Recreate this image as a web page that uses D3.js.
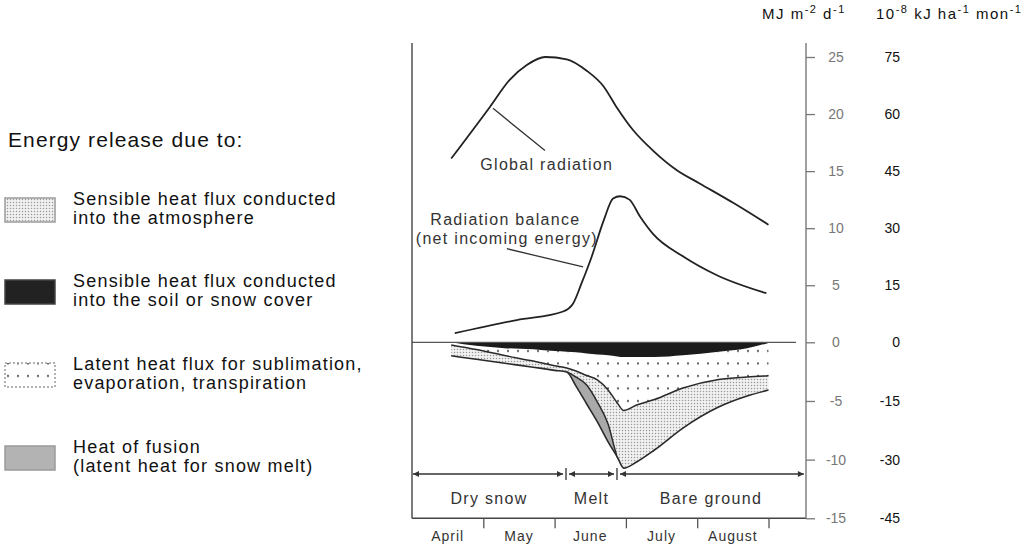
<!DOCTYPE html>
<html>
<head>
<meta charset="utf-8">
<script src="https://cdn.jsdelivr.net/npm/d3@7"></script>
<style>
  body { margin: 0; background: #fff; }
  svg { display: block; font-family: "Liberation Sans", Arial, sans-serif; }
</style>
</head>
<body>
<svg id="chart" width="1036" height="547"></svg>
<script>
// ---- data ----------------------------------------------------------------
// time is measured in months from 1 April (0 = 1 April, 5 = 1 September)
const monthNames = ["April", "May", "June", "July", "August"];
const monthTicks = [1, 2, 3, 4, 5];

const ticksMJ = [25, 20, 15, 10, 5, 0, -5, -10, -15];          // MJ m-2 d-1
const ticksKJ = [75, 60, 45, 30, 15, 0, -15, -30, -45];        // 10-8 kJ ha-1 mon-1

// global radiation (MJ m-2 d-1)
const globalMonth = [0.55, 1.09, 1.37, 1.61, 1.87, 2.17, 2.45, 2.69, 2.87, 3.10, 3.38, 3.71, 4.04, 4.51, 5.0];
const globalValue = [16.1, 20.6, 23.0, 24.3, 25.0, 24.8, 23.8, 22.4, 20.6, 18.6, 16.8, 15.1, 13.9, 12.2, 10.3];

// radiation balance, net incoming energy (MJ m-2 d-1)
const balanceMonth = [0.6, 1.47, 2.12, 2.26, 2.38, 2.52, 2.69, 2.82, 2.92, 3.05, 3.20, 3.38, 3.81, 4.27, 4.97];
const balanceValue = [0.8, 1.95, 2.7, 3.4, 5.2, 7.5, 10.7, 12.6, 12.8, 12.5, 11.0, 9.5, 7.5, 5.9, 4.3];

// energy release terms (negative = energy leaving the surface)
const fluxMonth    = [0.55, 0.9, 1.3, 1.7, 2.0, 2.17, 2.3, 2.45, 2.6, 2.75, 2.88, 2.97, 3.15, 3.4, 3.8, 4.3, 4.7, 5.0];
const soilFlux     = [0, -0.3, -0.5, -0.6, -0.75, -0.8, -0.85, -0.95, -1.05, -1.1, -1.2, -1.25, -1.25, -1.25, -1.1, -0.8, -0.5, -0.05];
const latentFlux   = [-0.23, -0.32, -0.63, -1.0, -1.24, -1.39, -1.6, -1.88, -2.16, -2.97, -3.97, -4.56, -4.1, -3.63, -2.8, -2.37, -2.46, -2.8];
const sensibleFlux = [-0.92, -0.83, -0.66, -0.52, -0.4, -0.34, -0.51, -0.81, -1.88, -2.89, -4.61, -4.91, -4.85, -4.3, -3.41, -2.35, -1.62, -1.22];
const fusionFlux   = [0, 0, 0, 0, 0, 0, -0.77, -1.62, -1.7, -1.53, 0, 0, 0, 0, 0, 0, 0, 0];

// snow-cover phases (month boundaries)
const phaseNames  = ["Dry snow", "Melt", "Bare ground"];
const phaseBounds = [0, 2.16, 2.875, 5.51];

// ---- scales ----------------------------------------------------------------
const svg = d3.select("#chart");
const x = d3.scaleLinear().domain([0, 5]).range([412, 768.5]);
const y = d3.scaleLinear().domain([-15, 0, 25]).range([518.3, 342.3, 57]);
const yKJ = y.copy().domain([-45, 0, 75]);

const frameTop = 43, frameBottom = y(-15), axisX = 806;

// ---- patterns --------------------------------------------------------------
const defs = svg.append("defs");
const fine = defs.append("pattern").attr("id", "fineDots")
  .attr("patternUnits", "userSpaceOnUse").attr("width", 3).attr("height", 3);
fine.append("rect").attr("width", 3).attr("height", 3).attr("fill", "#f1f1f1");
fine.append("circle").attr("cx", 1.5).attr("cy", 1.5).attr("r", 0.75).attr("fill", "#9a9a9a");

const coarse = defs.append("pattern").attr("id", "coarseDots")
  .attr("patternUnits", "userSpaceOnUse").attr("width", 10).attr("height", 12.5)
  .attr("x", 3).attr("y", 345);
coarse.append("rect").attr("width", 10).attr("height", 12.5).attr("fill", "#fff");
coarse.append("circle").attr("cx", 5).attr("cy", 6).attr("r", 1.1).attr("fill", "#555");

defs.append("clipPath").attr("id", "meltClip")
  .append("rect")
  .attr("x", x(fluxMonth[5])).attr("y", 0)
  .attr("width", x(fluxMonth[10]) - x(fluxMonth[5])).attr("height", 547);

defs.append("marker").attr("id", "arrow")
  .attr("viewBox", "0 0 10 10").attr("refX", 10).attr("refY", 5)
  .attr("markerWidth", 7).attr("markerHeight", 6)
  .attr("markerUnits", "userSpaceOnUse")
  .attr("orient", "auto-start-reverse")
  .append("path").attr("d", "M0,0L10,5L0,10Z").attr("fill", "#333");

// ---- stacked energy release ---------------------------------------------------
// all terms are negative, so each layer runs from d[0] (upper) down to d[1] (lower)
const fluxTable = fluxMonth.map((m, i) => ({
  m, soil: soilFlux[i], latent: latentFlux[i], sensible: sensibleFlux[i], fusion: fusionFlux[i]
}));
const stacked = d3.stack()
  .keys(["soil", "latent", "sensible", "fusion"])
  .offset(d3.stackOffsetNone)(fluxTable);
const [sSoil, sLatent, sSensible, sFusion] = stacked;

const curve = d3.curveMonotoneX;
const band = (upper, lower) => d3.area()
  .x((d, i) => x(fluxMonth[i]))
  .y0((d, i) => y(upper[i][0]))
  .y1((d, i) => y(lower[i][1]))
  .curve(curve)(fluxMonth);
const edge = (series) => d3.line()
  .x((d, i) => x(fluxMonth[i]))
  .y((d, i) => y(series[i][1]))
  .curve(curve)(fluxMonth);

// sensible heat to the atmosphere (plus fusion, overdrawn below)
svg.append("path").attr("d", band(sSensible, sFusion)).attr("fill", "url(#fineDots)");
// latent heat
svg.append("path").attr("d", band(sLatent, sLatent)).attr("fill", "url(#coarseDots)");
// heat of fusion, only during melt
svg.append("path").attr("d", band(sFusion, sFusion)).attr("fill", "#a9a9a9")
  .attr("clip-path", "url(#meltClip)");
// sensible heat into soil / snow cover
svg.append("path").attr("d", band(sSoil, sSoil)).attr("fill", "#1b1b1b");

// boundary lines
svg.append("path").attr("d", edge(sLatent)).attr("fill", "none").attr("stroke", "#2a2a2a").attr("stroke-width", 1.5);
svg.append("path").attr("d", edge(sSensible)).attr("fill", "none").attr("stroke", "#2a2a2a").attr("stroke-width", 1.5)
  .attr("clip-path", "url(#meltClip)");
svg.append("path").attr("d", edge(sFusion)).attr("fill", "none").attr("stroke", "#2a2a2a").attr("stroke-width", 1.6);

// zero line
svg.append("line").attr("x1", 412).attr("x2", 796).attr("y1", y(0)).attr("y2", y(0))
  .attr("stroke", "#555").attr("stroke-width", 1.3);

// ---- radiation curves -------------------------------------------------------
const lineGen = d3.line().x(d => x(d[0])).y(d => y(d[1])).curve(d3.curveMonotoneX);
svg.append("path").attr("d", lineGen(d3.zip(globalMonth, globalValue)))
  .attr("fill", "none").attr("stroke", "#222").attr("stroke-width", 1.8);
svg.append("path").attr("d", lineGen(d3.zip(balanceMonth, balanceValue)))
  .attr("fill", "none").attr("stroke", "#222").attr("stroke-width", 1.8);

// curve labels with leader lines
const labelStyle = s => s.attr("font-size", 16).attr("letter-spacing", 1.3).attr("fill", "#333")
  .attr("text-anchor", "middle");
svg.append("line").attr("x1", x(1.136)).attr("y1", y(20.5)).attr("x2", x(1.865)).attr("y2", y(16.8))
  .attr("stroke", "#333").attr("stroke-width", 1.3);
svg.append("text").attr("x", x(1.89)).attr("y", y(15.1)).text("Global radiation").call(labelStyle);

svg.append("text").attr("x", x(1.31)).attr("y", y(10.3)).text("Radiation balance").call(labelStyle);
svg.append("text").attr("x", x(1.33)).attr("y", y(8.6)).text("(net incoming energy)").call(labelStyle);
svg.append("line").attr("x1", x(1.33)).attr("y1", y(8.2)).attr("x2", x(2.40)).attr("y2", y(6.6))
  .attr("stroke", "#333").attr("stroke-width", 1.3);

// ---- frame and axes ---------------------------------------------------------
svg.append("line").attr("x1", 412).attr("x2", 412).attr("y1", frameTop).attr("y2", frameBottom)
  .attr("stroke", "#444").attr("stroke-width", 1.4);
svg.append("line").attr("x1", 412).attr("x2", axisX).attr("y1", frameBottom).attr("y2", frameBottom)
  .attr("stroke", "#444").attr("stroke-width", 1.4);
svg.append("line").attr("x1", axisX).attr("x2", axisX).attr("y1", frameTop).attr("y2", frameBottom)
  .attr("stroke", "#777").attr("stroke-width", 1.4);

const yAxis = svg.append("g").attr("transform", `translate(${axisX},0)`)
  .call(d3.axisRight(y).tickValues(ticksMJ).tickSize(9).tickFormat(d => String(d)));
yAxis.select(".domain").remove();
yAxis.selectAll(".tick line").attr("stroke", "#777").attr("stroke-width", 1.3);
yAxis.selectAll(".tick text").attr("x", 30).attr("text-anchor", "middle")
  .attr("fill", "#777").attr("font-size", 14).attr("font-family", "Liberation Sans, Arial, sans-serif");

const kjAxis = svg.append("g").attr("transform", "translate(900,0)")
  .call(d3.axisRight(yKJ).tickValues(ticksKJ).tickSize(0).tickFormat(d => String(d)));
kjAxis.select(".domain").remove();
kjAxis.selectAll(".tick text").attr("x", 0).attr("text-anchor", "end")
  .attr("fill", "#111").attr("font-size", 14).attr("font-family", "Liberation Sans, Arial, sans-serif");

// month axis below the frame
const xAxis = svg.append("g").attr("transform", `translate(0,${frameBottom})`)
  .call(d3.axisBottom(x).tickValues(monthTicks).tickSize(10).tickFormat(""));
xAxis.select(".domain").remove();
xAxis.selectAll(".tick line").attr("stroke", "#555").attr("stroke-width", 1.3);
svg.selectAll(".month").data(monthNames).join("text")
  .attr("class", "month")
  .attr("x", (d, i) => x(i + 0.5)).attr("y", 541)
  .attr("text-anchor", "middle").attr("font-size", 14).attr("letter-spacing", 1)
  .attr("fill", "#333").text(d => d);

// unit headers
const unitMJ = svg.append("text").attr("x", 762).attr("y", 19).attr("font-size", 15)
  .attr("letter-spacing", 1.5).attr("fill", "#111");
unitMJ.append("tspan").text("MJ m");
unitMJ.append("tspan").attr("dy", -6).attr("font-size", 11).text("-2");
unitMJ.append("tspan").attr("dy", 6).text(" d");
unitMJ.append("tspan").attr("dy", -6).attr("font-size", 11).text("-1");

const unitKJ = svg.append("text").attr("x", 876).attr("y", 19).attr("font-size", 15)
  .attr("letter-spacing", 1.5).attr("fill", "#111");
unitKJ.append("tspan").text("10");
unitKJ.append("tspan").attr("dy", -6).attr("font-size", 11).text("-8");
unitKJ.append("tspan").attr("dy", 6).text(" kJ ha");
unitKJ.append("tspan").attr("dy", -6).attr("font-size", 11).text("-1");
unitKJ.append("tspan").attr("dy", 6).text(" mon");
unitKJ.append("tspan").attr("dy", -6).attr("font-size", 11).text("-1");

// ---- phase timeline -----------------------------------------------------------
const timelineY = 474;
const phases = phaseNames.map((name, i) => ({ name, from: phaseBounds[i], to: phaseBounds[i + 1] }));
svg.selectAll(".phase-arrow").data(phases).join("line")
  .attr("class", "phase-arrow")
  .attr("x1", d => x(d.from) + (d.from === 0 ? 1 : 3))
  .attr("x2", d => x(d.to) - (d.to === phaseBounds[3] ? 1 : 3))
  .attr("y1", timelineY).attr("y2", timelineY)
  .attr("stroke", "#333").attr("stroke-width", 1.3)
  .attr("marker-start", "url(#arrow)").attr("marker-end", "url(#arrow)");
svg.selectAll(".phase-sep").data(phaseBounds.slice(1, 3)).join("line")
  .attr("class", "phase-sep")
  .attr("x1", d => x(d)).attr("x2", d => x(d))
  .attr("y1", timelineY - 6).attr("y2", timelineY + 6)
  .attr("stroke", "#333").attr("stroke-width", 1.3);
svg.selectAll(".phase-label").data(phases).join("text")
  .attr("class", "phase-label")
  .attr("x", d => x((d.from + d.to) / 2)).attr("y", 504)
  .attr("text-anchor", "middle").attr("font-size", 16).attr("letter-spacing", 1.3)
  .attr("fill", "#333").text(d => d.name);

// ---- legend ----------------------------------------------------------------------
svg.append("text").attr("x", 8).attr("y", 147).attr("font-size", 21).attr("letter-spacing", 1.1)
  .attr("fill", "#111").text("Energy release due to:");

const legendLines = [
  ["Sensible heat flux conducted", "into the atmosphere"],
  ["Sensible heat flux conducted", "into the soil or snow cover"],
  ["Latent heat flux for sublimation,", "evaporation, transpiration"],
  ["Heat of fusion", "(latent heat for snow melt)"]
];
const legendFill = ["url(#fineDots)", "#222", "url(#coarseDots)", "#b3b3b3"];
const legendBaseline = [205, 287, 370, 453];

legendLines.forEach((lines, i) => {
  const g = svg.append("g");
  g.append("rect").attr("x", 5).attr("y", legendBaseline[i] - 7).attr("width", 50).attr("height", 24)
    .attr("fill", legendFill[i])
    .attr("stroke", i === 1 ? "#444" : "#9a9a9a").attr("stroke-width", 1.5)
    .attr("stroke-dasharray", i === 2 ? "2,2" : null);
  lines.forEach((t, j) => {
    g.append("text").attr("x", 73).attr("y", legendBaseline[i] + j * 18.5)
      .attr("font-size", 18).attr("letter-spacing", 1.2).attr("fill", "#111").text(t);
  });
});
</script>
</body>
</html>
